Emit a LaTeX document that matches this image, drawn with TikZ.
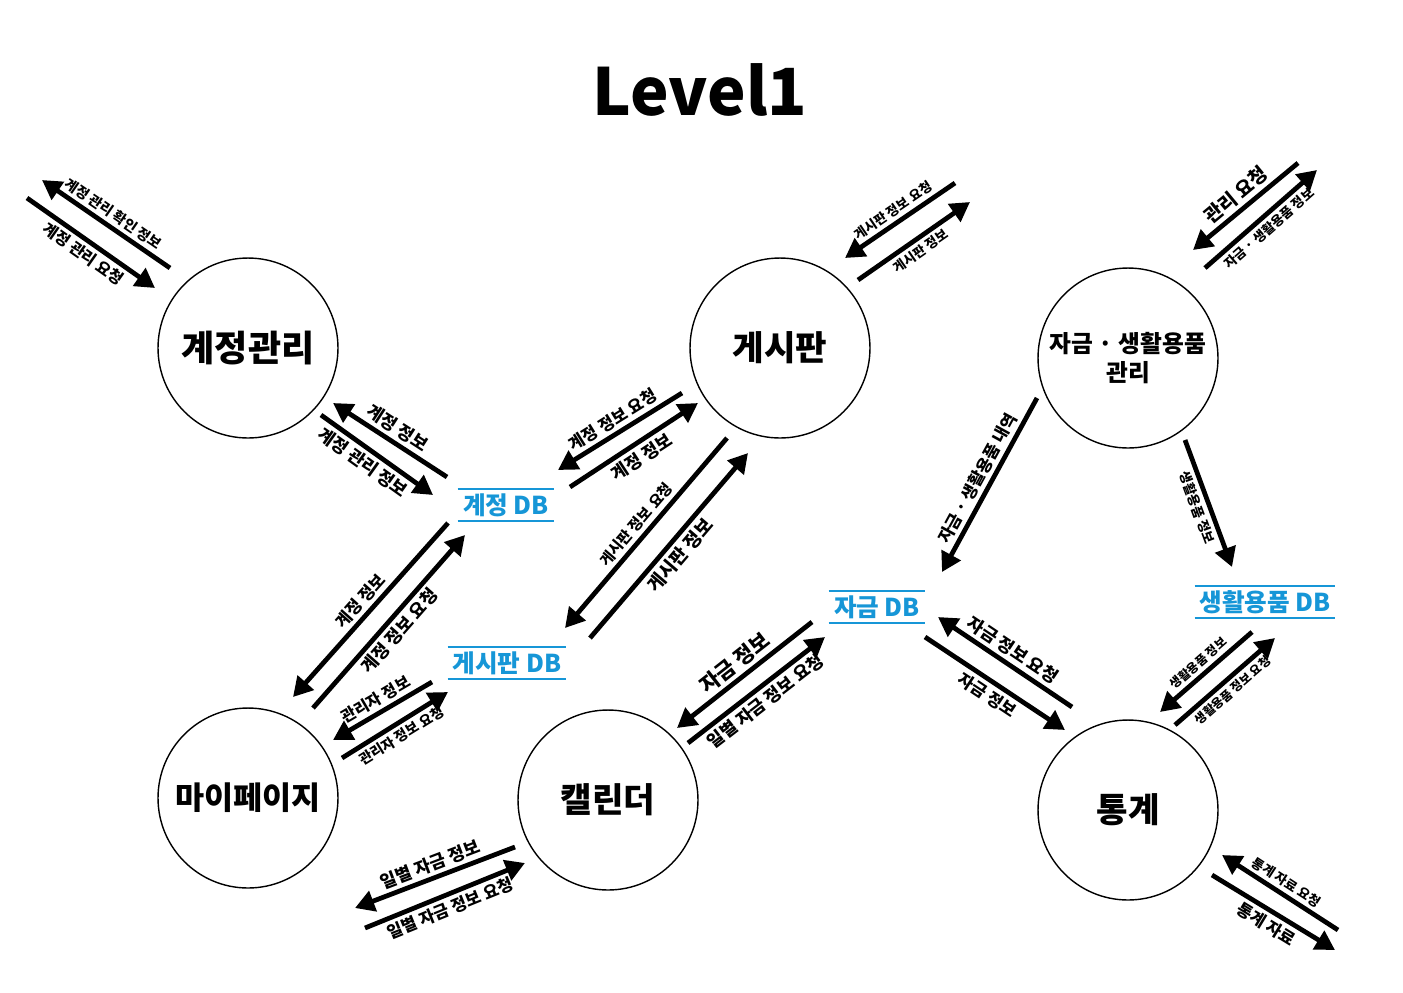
\documentclass[tikz,border=0pt]{standalone}
\usepackage{fontspec}
\setmainfont{Noto Sans CJK KR}
\usetikzlibrary{arrows.meta}
\definecolor{dbblue}{RGB}{22,150,215}

\begin{document}
\begin{tikzpicture}[x=0.02cm, y=-0.02cm, font=\bfseries,
    proc/.style={draw, circle, line width=0.8pt, minimum size=3.6cm, inner sep=0pt, align=center},
    store/.style={text=dbblue, font=\bfseries\fontsize{14}{16}\selectfont, minimum height=0.64cm, inner sep=0pt},
    flow/.style={line width=2.7pt, -{Triangle[length=11pt, width=12pt]}},
    lbl/.style={sloped, midway, inner sep=2pt, font=\bfseries\fontsize{#1}{#1}\selectfont}]
  \fill[white] (0,0) rectangle (1403,992);
  \useasboundingbox (0,0) rectangle (1403,992);

  \node[font=\bfseries\fontsize{37}{40}\selectfont] (title) at (700,90) {Level1};

  % processes
  \node[proc, font=\bfseries\fontsize{20.5}{24}\selectfont] (acct) at (248,348) {계정관리};
  \node[proc, font=\bfseries\fontsize{19.5}{24}\selectfont] (board) at (780,348) {게시판};
  \node[proc, font=\bfseries\fontsize{13.5}{16}\selectfont] (fund) at (1128,358) {자금 · 생활용품\\관리};
  \node[proc, font=\bfseries\fontsize{18}{22}\selectfont] (mypage) at (248,798) {마이페이지};
  \node[proc, font=\bfseries\fontsize{19.5}{24}\selectfont] (cal) at (608,800) {캘린더};
  \node[proc, font=\bfseries\fontsize{19.5}{24}\selectfont] (stat) at (1128,810) {통계};

  % data stores
  \node[store, minimum width=1.92cm] (acctdb) at (506,505) {계정 DB};
  \node[store, minimum width=2.36cm] (boarddb) at (507,663) {게시판 DB};
  \node[store, minimum width=1.92cm] (funddb) at (877,607) {자금 DB};
  \node[store, minimum width=2.8cm] (itemdb) at (1265,602) {생활용품 DB};
  \foreach \db in {acctdb, boarddb, funddb, itemdb} {
    \draw[dbblue, line width=1pt] (\db.north west) -- (\db.north east);
    \draw[dbblue, line width=1pt] (\db.south west) -- (\db.south east);
  }

  % flows
  \path (170,268) coordinate (acctout1) (42,180) coordinate (acctout2)
        (27,198) coordinate (acctin1) (155,288) coordinate (acctin2);
  \draw[flow] (acctout1) -- (acctout2) node[lbl=8, above] {계정 관리 확인 정보};
  \draw[flow] (acctin1) -- (acctin2) node[lbl=9, below] {계정 관리 요청};

  \path (447,477) coordinate (adb1) (333,403) coordinate (adb2)
        (321,415) coordinate (adb3) (433,495) coordinate (adb4);
  \draw[flow] (adb1) -- (adb2) node[lbl=10, above] {계정 정보};
  \draw[flow] (adb3) -- (adb4) node[lbl=10, below, pos=0.45] {계정 관리 정보};

  \path (682,393) coordinate (bdb1) (558,470) coordinate (bdb2)
        (570,487) coordinate (bdb3) (698,403) coordinate (bdb4);
  \draw[flow] (bdb1) -- (bdb2) node[lbl=9.5, above] {계정 정보 요청};
  \draw[flow] (bdb3) -- (bdb4) node[lbl=10, below] {계정 정보};

  \path (727,438) coordinate (bb1) (565,628) coordinate (bb2)
        (590,638) coordinate (bb3) (748,453) coordinate (bb4);
  \draw[flow] (bb1) -- (bb2) node[lbl=8.5, above] {게시판 정보 요청};
  \draw[flow] (bb3) -- (bb4) node[lbl=10.5, below] {게시판 정보};

  \path (955,183) coordinate (bout1) (845,258) coordinate (bout2)
        (858,280) coordinate (bout3) (970,202) coordinate (bout4);
  \draw[flow] (bout1) -- (bout2) node[lbl=7.5, above] {게시판 정보 요청};
  \draw[flow] (bout3) -- (bout4) node[lbl=7.5, below] {게시판 정보};

  \path (1298,163) coordinate (fout1) (1193,250) coordinate (fout2)
        (1205,268) coordinate (fout3) (1317,170) coordinate (fout4);
  \draw[flow] (fout1) -- (fout2) node[lbl=11, above] {관리 요청};
  \draw[flow] (fout3) -- (fout4) node[lbl=7.5, below] {자금 · 생활용품 정보};

  \path (1037,398) coordinate (ff1) (942,572) coordinate (ff2)
        (1185,440) coordinate (fi1) (1232,567) coordinate (fi2);
  \draw[flow] (ff1) -- (ff2) node[lbl=9.5, above] {자금 · 생활용품 내역};
  \draw[flow] (fi1) -- (fi2) node[lbl=7.5, below] {생활용품 정보};

  \path (448,523) coordinate (ma1) (293,697) coordinate (ma2)
        (313,708) coordinate (ma3) (465,535) coordinate (ma4);
  \draw[flow] (ma1) -- (ma2) node[lbl=9.5, above] {계정 정보};
  \draw[flow] (ma3) -- (ma4) node[lbl=10, below] {계정 정보 요청};

  \path (432,682) coordinate (mb1) (333,740) coordinate (mb2)
        (342,758) coordinate (mb3) (448,692) coordinate (mb4);
  \draw[flow] (mb1) -- (mb2) node[lbl=9, above] {관리자 정보};
  \draw[flow] (mb3) -- (mb4) node[lbl=8, below] {관리자 정보 요청};

  \path (812,622) coordinate (cf1) (677,728) coordinate (cf2)
        (688,743) coordinate (cf3) (825,637) coordinate (cf4);
  \draw[flow] (cf1) -- (cf2) node[lbl=12, above] {자금 정보};
  \draw[flow] (cf3) -- (cf4) node[lbl=10, below] {일별 자금 정보 요청};

  \path (1072,707) coordinate (sf1) (938,617) coordinate (sf2)
        (925,637) coordinate (sf3) (1065,730) coordinate (sf4);
  \draw[flow] (sf1) -- (sf2) node[lbl=10, above] {자금 정보 요청};
  \draw[flow] (sf3) -- (sf4) node[lbl=9.5, below] {자금 정보};

  \path (1252,632) coordinate (si1) (1160,712) coordinate (si2)
        (1175,725) coordinate (si3) (1275,638) coordinate (si4);
  \draw[flow] (si1) -- (si2) node[lbl=7, above] {생활용품 정보};
  \draw[flow] (si3) -- (si4) node[lbl=7, below] {생활용품 정보 요청};

  \path (1338,930) coordinate (sout1) (1222,855) coordinate (sout2)
        (1212,875) coordinate (sout3) (1335,950) coordinate (sout4);
  \draw[flow] (sout1) -- (sout2) node[lbl=7.5, above] {통계 자료 요청};
  \draw[flow] (sout3) -- (sout4) node[lbl=9.5, below] {통계 자료};

  \path (515,847) coordinate (cout1) (355,908) coordinate (cout2)
        (365,928) coordinate (cout3) (525,863) coordinate (cout4);
  \draw[flow] (cout1) -- (cout2) node[lbl=10, above] {일별 자금 정보};
  \draw[flow] (cout3) -- (cout4) node[lbl=9.5, below] {일별 자금 정보 요청};
\end{tikzpicture}
\end{document}
